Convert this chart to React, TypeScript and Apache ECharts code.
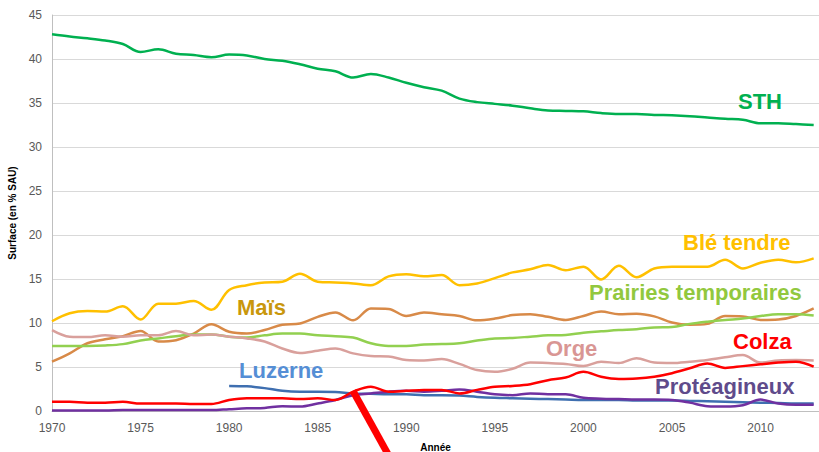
import React, { useEffect, useRef } from "react";
import * as echarts from "echarts";

const years = [
  1970, 1971, 1972, 1973, 1974, 1975, 1976, 1977, 1978, 1979,
  1980, 1981, 1982, 1983, 1984, 1985, 1986, 1987, 1988, 1989,
  1990, 1991, 1992, 1993, 1994, 1995, 1996, 1997, 1998, 1999,
  2000, 2001, 2002, 2003, 2004, 2005, 2006, 2007, 2008, 2009,
  2010, 2011, 2012, 2013,
];

const sth = [
  42.8, 42.55, 42.35, 42.1, 41.7, 40.8, 41.1, 40.6, 40.45, 40.2,
  40.5, 40.4, 40.0, 39.8, 39.4, 38.9, 38.6, 37.9, 38.3, 37.9,
  37.3, 36.8, 36.4, 35.5, 35.1, 34.9, 34.7, 34.4, 34.15, 34.1,
  34.05, 33.85, 33.75, 33.75, 33.65, 33.6, 33.5, 33.35, 33.2, 33.1,
  32.7, 32.7, 32.6, 32.5,
];

const bleTendre = [
  10.2, 11.1, 11.35, 11.3, 11.9, 10.4, 12.2, 12.2, 12.5, 11.5,
  13.75, 14.3, 14.6, 14.7, 15.6, 14.7, 14.6, 14.5, 14.3, 15.3,
  15.55, 15.3, 15.45, 14.3, 14.5, 15.1, 15.75, 16.1, 16.6, 16.0,
  16.4, 14.95, 16.5, 15.2, 16.2, 16.4, 16.4, 16.4, 17.2, 16.2,
  16.85, 17.2, 16.9, 17.35,
];

const mais = [
  5.6, 6.55, 7.7, 8.15, 8.5, 9.1, 7.9, 8.05, 8.8, 9.85,
  9.0, 8.8, 9.2, 9.8, 9.95, 10.7, 11.2, 10.3, 11.65, 11.6,
  10.8, 11.2, 11.0, 10.8, 10.3, 10.5, 10.9, 11.0, 10.7, 10.35,
  10.8, 11.3, 11.0, 11.05, 10.75, 10.05, 9.8, 9.9, 10.8, 10.75,
  10.35, 10.4, 10.8, 11.65,
];

const prairies = [
  7.4, 7.4, 7.4, 7.45, 7.6, 8.0, 8.25, 8.5, 8.7, 8.7,
  8.45, 8.35, 8.6, 8.8, 8.8, 8.6, 8.5, 8.35, 7.7, 7.4,
  7.4, 7.55, 7.6, 7.7, 8.0, 8.25, 8.3, 8.45, 8.6, 8.65,
  8.9, 9.05, 9.2, 9.3, 9.5, 9.55, 9.9, 10.15, 10.35, 10.5,
  10.8, 11.0, 11.0, 10.85,
];

const orge = [
  9.2, 8.45, 8.4, 8.6, 8.45, 8.6, 8.6, 9.1, 8.6, 8.7,
  8.45, 8.25, 7.9, 7.1, 6.6, 6.85, 7.1, 6.55, 6.25, 6.2,
  5.8, 5.75, 5.9, 5.35, 4.65, 4.45, 4.8, 5.5, 5.45, 5.35,
  5.1, 5.6, 5.45, 6.0, 5.5, 5.45, 5.6, 5.8, 6.1, 6.35,
  5.5, 5.75, 5.8, 5.75,
];

const colza = [
  1.05, 1.05, 0.95, 0.95, 1.05, 0.85, 0.85, 0.85, 0.8, 0.8,
  1.25, 1.45, 1.45, 1.45, 1.35, 1.45, 1.25, 2.2, 2.75, 2.2,
  2.3, 2.4, 2.4, 2.0, 2.4, 2.75, 2.85, 3.05, 3.5, 3.8,
  4.45, 3.9, 3.65, 3.7, 3.9, 4.3, 4.85, 5.4, 4.9, 5.1,
  5.3, 5.5, 5.6, 5.05,
];

const proteagineux = [
  0.05, 0.05, 0.05, 0.05, 0.1, 0.1, 0.1, 0.1, 0.1, 0.1,
  0.2, 0.3, 0.35, 0.55, 0.5, 0.85, 1.25, 1.8, 2.0, 2.2,
  2.3, 2.2, 2.3, 2.45, 2.2, 1.9, 1.8, 2.0, 1.9, 1.9,
  1.5, 1.4, 1.35, 1.3, 1.3, 1.25, 0.95, 0.55, 0.5, 0.65,
  1.3, 0.85, 0.7, 0.7,
];

const luzerne = [
  null, null, null, null, null, null, null, null, null, null,
  2.85, 2.8, 2.6, 2.3, 2.2, 2.2, 2.15, 2.0, 1.95, 1.9,
  1.9, 1.8, 1.8, 1.75, 1.6, 1.5, 1.45, 1.4, 1.35, 1.3,
  1.25, 1.25, 1.25, 1.2, 1.2, 1.2, 1.15, 1.1, 1.05, 1.0,
  0.95, 0.9, 0.85, 0.85,
];

const seriesDefs = [
  { name: "STH", data: sth, color: "#00B050" },
  { name: "Blé tendre", data: bleTendre, color: "#FFC000" },
  { name: "Maïs", data: mais, color: "#D88A48" },
  { name: "Prairies temporaires", data: prairies, color: "#92D050" },
  { name: "Orge", data: orge, color: "#D9A09C" },
  { name: "Luzerne", data: luzerne, color: "#3F6FB0" },
  { name: "Protéagineux", data: proteagineux, color: "#7030A0" },
  { name: "Colza", data: colza, color: "#FF0000" },
];

const labels = [
  { text: "STH", x: 738, y: 101, color: "#00B050" },
  { text: "Blé tendre", x: 683, y: 242, color: "#FFC000" },
  { text: "Prairies temporaires", x: 589, y: 292, color: "#92C83E" },
  { text: "Maïs", x: 237, y: 307, color: "#C9970C" },
  { text: "Orge", x: 546, y: 348, color: "#D99694" },
  { text: "Colza", x: 733, y: 341, color: "#FF0000" },
  { text: "Luzerne", x: 239, y: 370, color: "#558ED5" },
  { text: "Protéagineux", x: 655, y: 386, color: "#5F4B8B" },
];

export default function App() {
  const ref = useRef<HTMLDivElement>(null);

  useEffect(() => {
    if (!ref.current) return;
    const chart = echarts.init(ref.current, null, { renderer: "svg" });
    chart.setOption({
      animation: false,
      backgroundColor: "#FFFFFF",
      grid: { left: 52, right: 0, top: 15, bottom: 41, containLabel: false, outerBoundsMode: "none" },
      xAxis: {
        type: "value",
        min: 1970,
        max: 2013.3,
        interval: 5,
        name: "Année",
        nameLocation: "middle",
        nameGap: 31,
        nameTextStyle: { fontSize: 10, fontWeight: "bold", color: "#000", fontFamily: "Liberation Sans, Arial, sans-serif" },
        axisLine: { show: true, lineStyle: { color: "#BFBFBF", width: 1 } },
        axisTick: { show: false },
        splitLine: { show: false },
        axisLabel: {
          color: "#595959",
          fontSize: 12,
          margin: 11,
          fontFamily: "Liberation Sans, Arial, sans-serif",
          showMaxLabel: false,
          formatter: (v: number) => (v % 5 === 0 ? String(v) : ""),
        },
      },
      yAxis: {
        type: "value",
        min: 0,
        max: 45,
        interval: 5,
        name: "Surface (en % SAU)",
        nameLocation: "middle",
        nameGap: 31,
        nameTextStyle: { fontSize: 10, fontWeight: "bold", color: "#000", fontFamily: "Liberation Sans, Arial, sans-serif" },
        axisLine: { show: true, lineStyle: { color: "#BFBFBF", width: 1 } },
        axisTick: { show: false },
        splitLine: { show: true, lineStyle: { color: "#D9D9D9", width: 1 } },
        axisLabel: {
          color: "#595959",
          fontSize: 12,
          margin: 10,
          fontFamily: "Liberation Sans, Arial, sans-serif",
        },
      },
      series: seriesDefs.map((s) => ({
        name: s.name,
        type: "line",
        data: years.map((y, i) => [y, s.data[i]]),
        smooth: 0.35,
        showSymbol: false,
        symbol: "none",
        connectNulls: false,
        lineStyle: { color: s.color, width: 2.5 },
        itemStyle: { color: s.color },
      })),
      graphic: [
        ...labels.map((l) => ({
          type: "text",
          x: l.x,
          y: l.y,
          z: 100,
          style: {
            text: l.text,
            fill: l.color,
            font: "bold 22px 'Liberation Sans', Arial, sans-serif",
            verticalAlign: "middle",
            align: "left",
          },
        })),
        {
          type: "line",
          z: 100,
          shape: { x1: 353, y1: 391, x2: 389, y2: 456 },
          style: { stroke: "#FF0000", lineWidth: 7 },
        },
      ],
    });
    return () => chart.dispose();
  }, []);

  return (
    <div
      ref={ref}
      style={{ position: "absolute", left: 0, top: 0, width: 819, height: 452, background: "#fff" }}
    />
  );
}
